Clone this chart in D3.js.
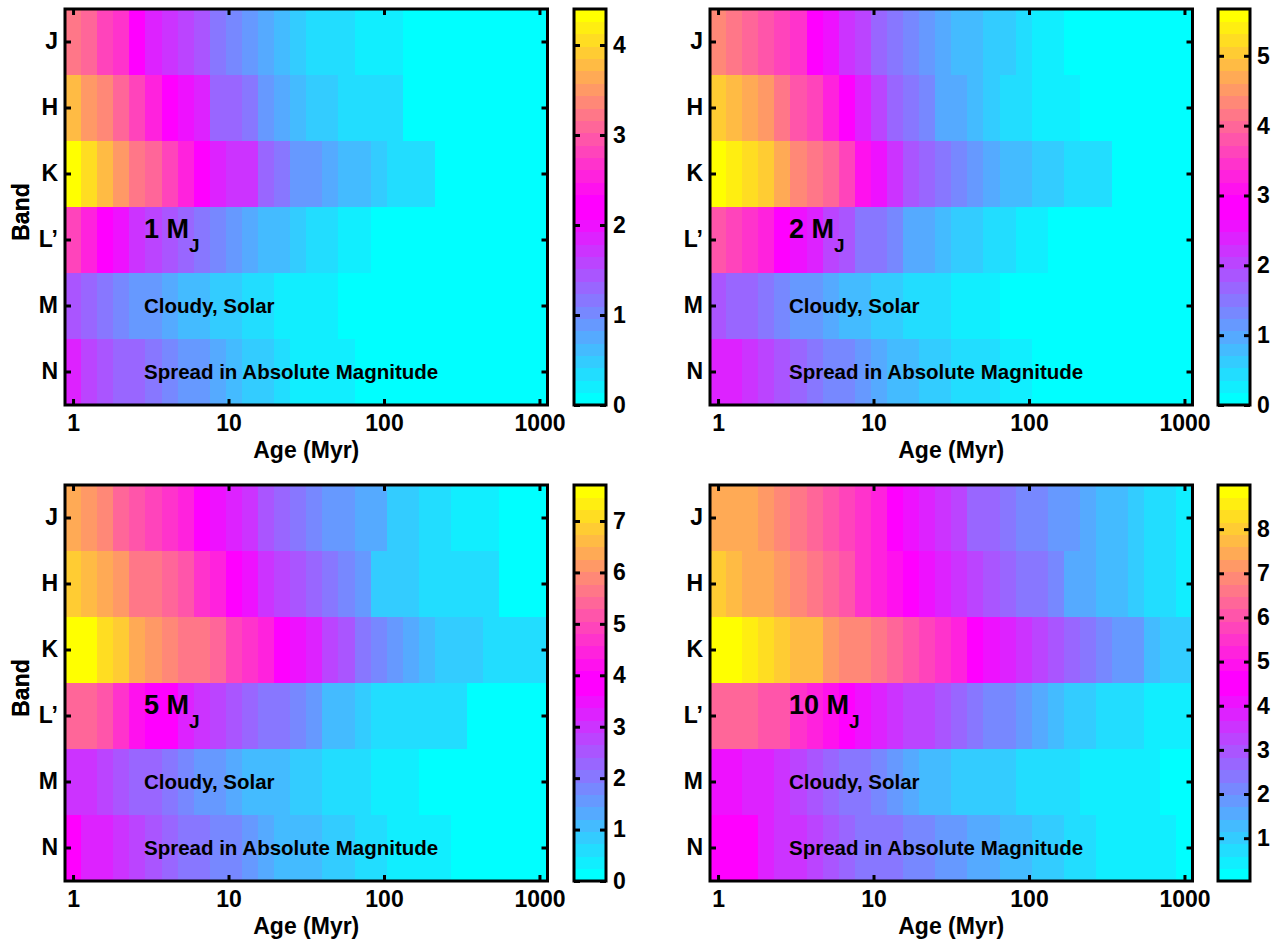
<!DOCTYPE html>
<html><head><meta charset="utf-8">
<script src="https://cdn.jsdelivr.net/npm/d3@7"></script>
<style>
body{margin:0;background:#fff;}
svg text{font-family:"Liberation Sans",Arial,Helvetica,sans-serif;font-weight:bold;fill:#000;}
.ax text{font-size:23px;}
.lab{font-size:23px;}
.ann{font-size:20.5px;}
.mass{font-size:27px;}
</style></head><body>
<svg id="c" width="1280" height="941"></svg>
<script>
// Age bin centres (Myr), log-spaced 1..1000
const ages = [1, 1.2690, 1.6103, 2.0434, 2.5930, 3.2903, 4.1753, 5.2983, 6.7234, 8.5317,
  10.826, 13.738, 17.433, 22.122, 28.072, 35.622, 45.204, 57.362, 72.790, 92.367,
  117.21, 148.73, 188.74, 239.50, 303.92, 385.66, 489.39, 621.02, 788.05, 1000];
const bands = ["J", "H", "K", "L\u2019", "M", "N"];
const xTicks = [1, 10, 100, 1000];
const masses = ["1", "2", "5", "10"];
const cbTicks1 = [0, 1, 2, 3, 4];
const cbTicks2 = [0, 1, 2, 3, 4, 5];
const cbTicks5 = [0, 1, 2, 3, 4, 5, 6, 7];
const cbTicks10 = [1, 2, 3, 4, 5, 6, 7, 8];

// Spread in absolute magnitude, rows J,H,K,L',M,N ; columns = ages
const spread1MJ = [
  [3.23,3.09,2.82,2.68,2.27,1.86,1.72,1.58,1.44,1.17,1.03,0.89,0.76,0.62,0.48,0.34,0.34,0.34,0.21,0.21,0.21,0,0,0,0,0,0,0,0,0],
  [3.78,3.51,3.37,3.09,2.82,2.54,2.13,1.99,1.86,1.31,1.31,1.17,0.89,0.76,0.62,0.48,0.48,0.34,0.34,0.34,0.34,0,0,0,0,0,0,0,0,0],
  [4.40,4.06,3.78,3.51,3.23,3.09,2.82,2.54,2.27,1.86,1.72,1.72,1.31,1.17,0.89,0.89,0.76,0.62,0.62,0.48,0.34,0.34,0.34,0,0,0,0,0,0,0],
  [2.82,2.54,2.27,1.99,1.72,1.58,1.44,1.31,1.17,1.03,0.89,0.76,0.62,0.62,0.48,0.34,0.34,0.21,0.21,0,0,0,0,0,0,0,0,0,0,0],
  [1.44,1.31,1.17,1.03,0.89,0.89,0.76,0.62,0.62,0.48,0.48,0.34,0.34,0.21,0.21,0.21,0.21,0,0,0,0,0,0,0,0,0,0,0,0,0],
  [1.86,1.58,1.44,1.31,1.31,1.17,1.03,0.89,0.89,0.76,0.62,0.48,0.48,0.34,0.21,0.21,0.21,0.21,0,0,0,0,0,0,0,0,0,0,0,0]
];
const spread2MJ = [
  [4.34,4.16,3.99,3.81,3.63,3.46,2.92,2.57,2.21,2.04,1.68,1.51,1.33,1.15,0.97,0.80,0.80,0.62,0.62,0.44,0.27,0.27,0,0,0,0,0,0,0,0],
  [5.05,4.87,4.70,4.52,4.16,3.81,3.63,3.28,2.92,2.39,2.04,1.68,1.51,1.33,0.97,0.97,0.80,0.62,0.44,0.44,0.27,0.27,0.27,0,0,0,0,0,0,0],
  [5.67,5.40,5.23,5.05,4.70,4.34,4.16,3.99,3.63,3.10,2.57,2.21,1.86,1.68,1.51,1.33,1.15,0.97,0.80,0.80,0.62,0.62,0.44,0.44,0.44,0,0,0,0,0],
  [3.81,3.63,3.46,3.28,2.92,2.57,2.39,2.04,1.86,1.51,1.51,1.33,0.97,0.97,0.80,0.62,0.62,0.44,0.44,0.27,0.27,0,0,0,0,0,0,0,0,0],
  [1.86,1.68,1.68,1.51,1.33,1.15,1.15,0.97,0.80,0.80,0.62,0.62,0.44,0.44,0.44,0.27,0.27,0.27,0,0,0,0,0,0,0,0,0,0,0,0],
  [2.39,2.39,2.21,2.04,1.86,1.68,1.51,1.33,1.33,1.15,0.97,0.80,0.80,0.62,0.62,0.44,0.44,0.44,0.27,0.27,0,0,0,0,0,0,0,0,0,0]
];
const spread5MJ = [
  [6.38,6.14,5.89,5.41,5.17,4.93,4.69,4.45,3.97,3.49,3.25,3.01,2.53,2.29,2.05,1.80,1.56,1.56,1.32,1.32,0.84,0.84,0.60,0.60,0.36,0.36,0.36,0,0,0],
  [6.86,6.62,6.38,6.14,5.65,5.65,5.41,5.17,4.69,4.45,3.97,3.49,3.01,2.77,2.53,2.29,2.05,1.80,1.56,0.84,0.84,0.84,0.60,0.60,0.60,0.60,0.60,0,0,0],
  [7.70,7.58,7.10,6.86,6.38,6.14,5.89,5.65,5.65,5.41,4.93,4.69,4.45,3.97,3.49,3.25,2.77,2.53,2.05,1.80,1.56,1.32,1.08,0.84,0.84,0.84,0.60,0.60,0.60,0.60],
  [5.41,5.41,5.17,4.69,4.21,3.97,3.73,3.25,3.01,2.77,2.53,2.29,2.05,2.05,1.80,1.56,1.08,1.08,0.84,0.60,0.60,0.60,0.60,0.60,0.60,0,0,0,0,0],
  [3.01,3.01,2.77,2.53,2.29,2.29,2.05,1.80,1.56,1.56,1.32,1.08,1.08,1.08,0.84,0.84,0.60,0.60,0.60,0.36,0.36,0.36,0,0,0,0,0,0,0,0],
  [3.73,3.25,3.25,3.01,2.77,2.53,2.29,2.05,2.05,1.80,1.80,1.56,1.32,1.08,1.08,1.08,0.84,0.84,0.60,0.60,0.36,0.36,0.36,0.36,0,0,0,0,0,0]
];
const spread10MJ = [
  [7.46,7.46,7.46,7.18,6.90,6.62,6.34,6.05,5.77,5.49,5.21,4.65,4.09,3.81,3.53,3.25,2.69,2.69,2.41,2.13,2.13,1.85,1.85,1.57,1.29,1.29,1.01,0.73,0.73,0.45],
  [8.02,7.74,7.46,7.46,7.18,6.90,6.62,6.34,6.05,5.49,5.21,4.93,4.65,4.09,3.81,3.53,3.25,2.97,2.69,2.41,2.41,2.13,1.57,1.57,1.29,1.29,1.01,0.73,0.73,0.45],
  [9.00,8.86,8.58,8.30,8.02,7.74,7.74,7.18,6.90,6.90,6.62,6.34,6.05,5.77,5.49,5.21,4.65,4.09,3.81,3.53,3.25,2.97,2.69,2.41,2.13,1.85,1.85,1.29,1.01,1.01],
  [6.34,6.34,6.34,6.05,6.05,5.49,5.21,4.93,4.65,4.09,3.81,3.53,3.25,3.25,2.97,2.69,2.41,2.13,2.13,1.85,1.57,1.29,1.01,1.01,0.73,0.73,0.73,0.45,0.45,0.45],
  [4.09,4.09,3.81,3.81,3.53,3.25,2.97,2.69,2.41,2.41,2.13,1.85,1.57,1.29,1.29,1.01,1.01,1.01,1.01,0.73,0.73,0.73,0.73,0.45,0.45,0.45,0.45,0.45,0.03,0.03],
  [4.65,4.37,4.37,3.81,3.53,3.53,3.25,2.97,2.69,2.41,2.41,2.41,2.13,2.13,1.85,1.85,1.57,1.57,1.29,1.29,1.01,1.01,0.73,0.73,0.45,0.45,0.45,0.45,0.45,0.03]
];

const panelData = [spread1MJ, spread2MJ, spread5MJ, spread10MJ];
const panelCbTicks = [cbTicks1, cbTicks2, cbTicks5, cbTicks10];

// colormap: cool (16) followed by spring (16)
const cmap = d3.range(32).map(i => {
  if (i < 16) { const t = i / 15; return d3.rgb(255 * t, 255 * (1 - t), 255).formatHex(); }
  const t = (i - 16) / 15; return d3.rgb(255, 255 * t, 255 * (1 - t)).formatHex();
});

const layout = [
  {x0: 65, y0: 9, cbx: 574},
  {x0: 710, y0: 9, cbx: 1218},
  {x0: 65, y0: 485, cbx: 574},
  {x0: 710, y0: 485, cbx: 1218}
];
const PW = 482.5, PH = 396, CBW = 32, TK = 6, LW = 3;
const labelAge = 2.86;

const half = Math.sqrt(ages[1] / ages[0]);
const edges = [ages[0] / half, ...d3.pairs(ages).map(([a, b]) => Math.sqrt(a * b)), ages[ages.length - 1] * half];

const svg = d3.select("#c");

function styleAxis(sel) {
  sel.attr("font-size", null).attr("font-family", null);
  sel.select(".domain").remove();
  sel.selectAll(".tick line").attr("stroke", "#000").attr("stroke-width", LW);
}

panelData.forEach((data, p) => {
  const L = layout[p];
  const g = svg.append("g");
  const x = d3.scaleLog().domain([edges[0], edges[edges.length - 1]]).range([L.x0, L.x0 + PW]);
  const y = d3.scaleBand().domain(bands).range([L.y0, L.y0 + PH]);
  const ext = d3.extent(data.flat());
  const color = d3.scaleQuantize().domain(ext).range(cmap);

  // cells
  bands.forEach((b, i) => {
    g.append("g").selectAll("rect").data(data[i]).join("rect")
      .attr("x", (d, j) => x(edges[j]))
      .attr("y", y(b))
      .attr("width", (d, j) => x(edges[j + 1]) - x(edges[j]) + 0.6)
      .attr("height", y.bandwidth() + 0.6)
      .attr("fill", d => color(d))
      .attr("shape-rendering", "crispEdges");
  });

  // annotations
  const ann = g.append("g");
  const mt = ann.append("text").attr("class", "mass")
    .attr("x", x(labelAge)).attr("y", y(bands[3]) + y.bandwidth() / 2 - 2);
  mt.append("tspan").text(masses[p] + " M");
  mt.append("tspan").attr("dy", 13.5).attr("font-size", "19px").text("J");
  ann.append("text").attr("class", "ann").attr("x", x(labelAge))
    .attr("y", y(bands[4]) + y.bandwidth() / 2 + 7).text("Cloudy, Solar");
  ann.append("text").attr("class", "ann").attr("x", x(labelAge))
    .attr("y", y(bands[5]) + y.bandwidth() / 2 + 7).text("Spread in Absolute Magnitude");

  // axes
  g.append("g").attr("class", "ax").attr("transform", `translate(0,${L.y0 + PH})`)
    .call(d3.axisBottom(x).tickValues(xTicks).tickFormat(d3.format("d")).tickSizeInner(-TK).tickSizeOuter(0).tickPadding(10))
    .call(styleAxis);
  g.append("g").attr("class", "ax").attr("transform", `translate(0,${L.y0})`)
    .call(d3.axisTop(x).tickValues(xTicks).tickFormat("").tickSizeInner(-TK).tickSizeOuter(0))
    .call(styleAxis);
  g.append("g").attr("class", "ax").attr("transform", `translate(${L.x0},0)`)
    .call(d3.axisLeft(y).tickSizeInner(-TK).tickSizeOuter(0).tickPadding(7))
    .call(styleAxis);
  g.append("g").attr("class", "ax").attr("transform", `translate(${L.x0 + PW},0)`)
    .call(d3.axisRight(y).tickFormat("").tickSizeInner(-TK).tickSizeOuter(0))
    .call(styleAxis);
  g.append("rect").attr("x", L.x0).attr("y", L.y0).attr("width", PW).attr("height", PH)
    .attr("fill", "none").attr("stroke", "#000").attr("stroke-width", LW);

  g.append("text").attr("class", "lab").attr("text-anchor", "middle")
    .attr("x", L.x0 + PW / 2).attr("y", L.y0 + PH + 53).text("Age (Myr)");
  g.append("text").attr("class", "lab").attr("text-anchor", "middle")
    .attr("transform", `translate(29,${L.y0 + PH / 2 + 5}) rotate(-90)`).text("Band");

  // colorbar
  const cy = d3.scaleLinear().domain(ext).range([L.y0 + PH, L.y0]);
  const lv = [ext[0], ...color.thresholds(), ext[1]];
  g.append("g").selectAll("rect").data(cmap).join("rect")
    .attr("x", L.cbx).attr("width", CBW)
    .attr("y", (c, k) => cy(lv[k + 1]))
    .attr("height", (c, k) => cy(lv[k]) - cy(lv[k + 1]) + 0.6)
    .attr("fill", c => c).attr("shape-rendering", "crispEdges");
  g.append("g").attr("class", "ax").attr("transform", `translate(${L.cbx + CBW},0)`)
    .call(d3.axisRight(cy).tickValues(panelCbTicks[p]).tickFormat(d3.format("d")).tickSizeInner(-TK).tickSizeOuter(0).tickPadding(7))
    .call(styleAxis);
  g.append("g").attr("class", "ax").attr("transform", `translate(${L.cbx},0)`)
    .call(d3.axisLeft(cy).tickValues(panelCbTicks[p]).tickFormat("").tickSizeInner(-TK).tickSizeOuter(0))
    .call(styleAxis);
  g.append("rect").attr("x", L.cbx).attr("y", L.y0).attr("width", CBW).attr("height", PH)
    .attr("fill", "none").attr("stroke", "#000").attr("stroke-width", LW);
});
</script>
</body></html>
